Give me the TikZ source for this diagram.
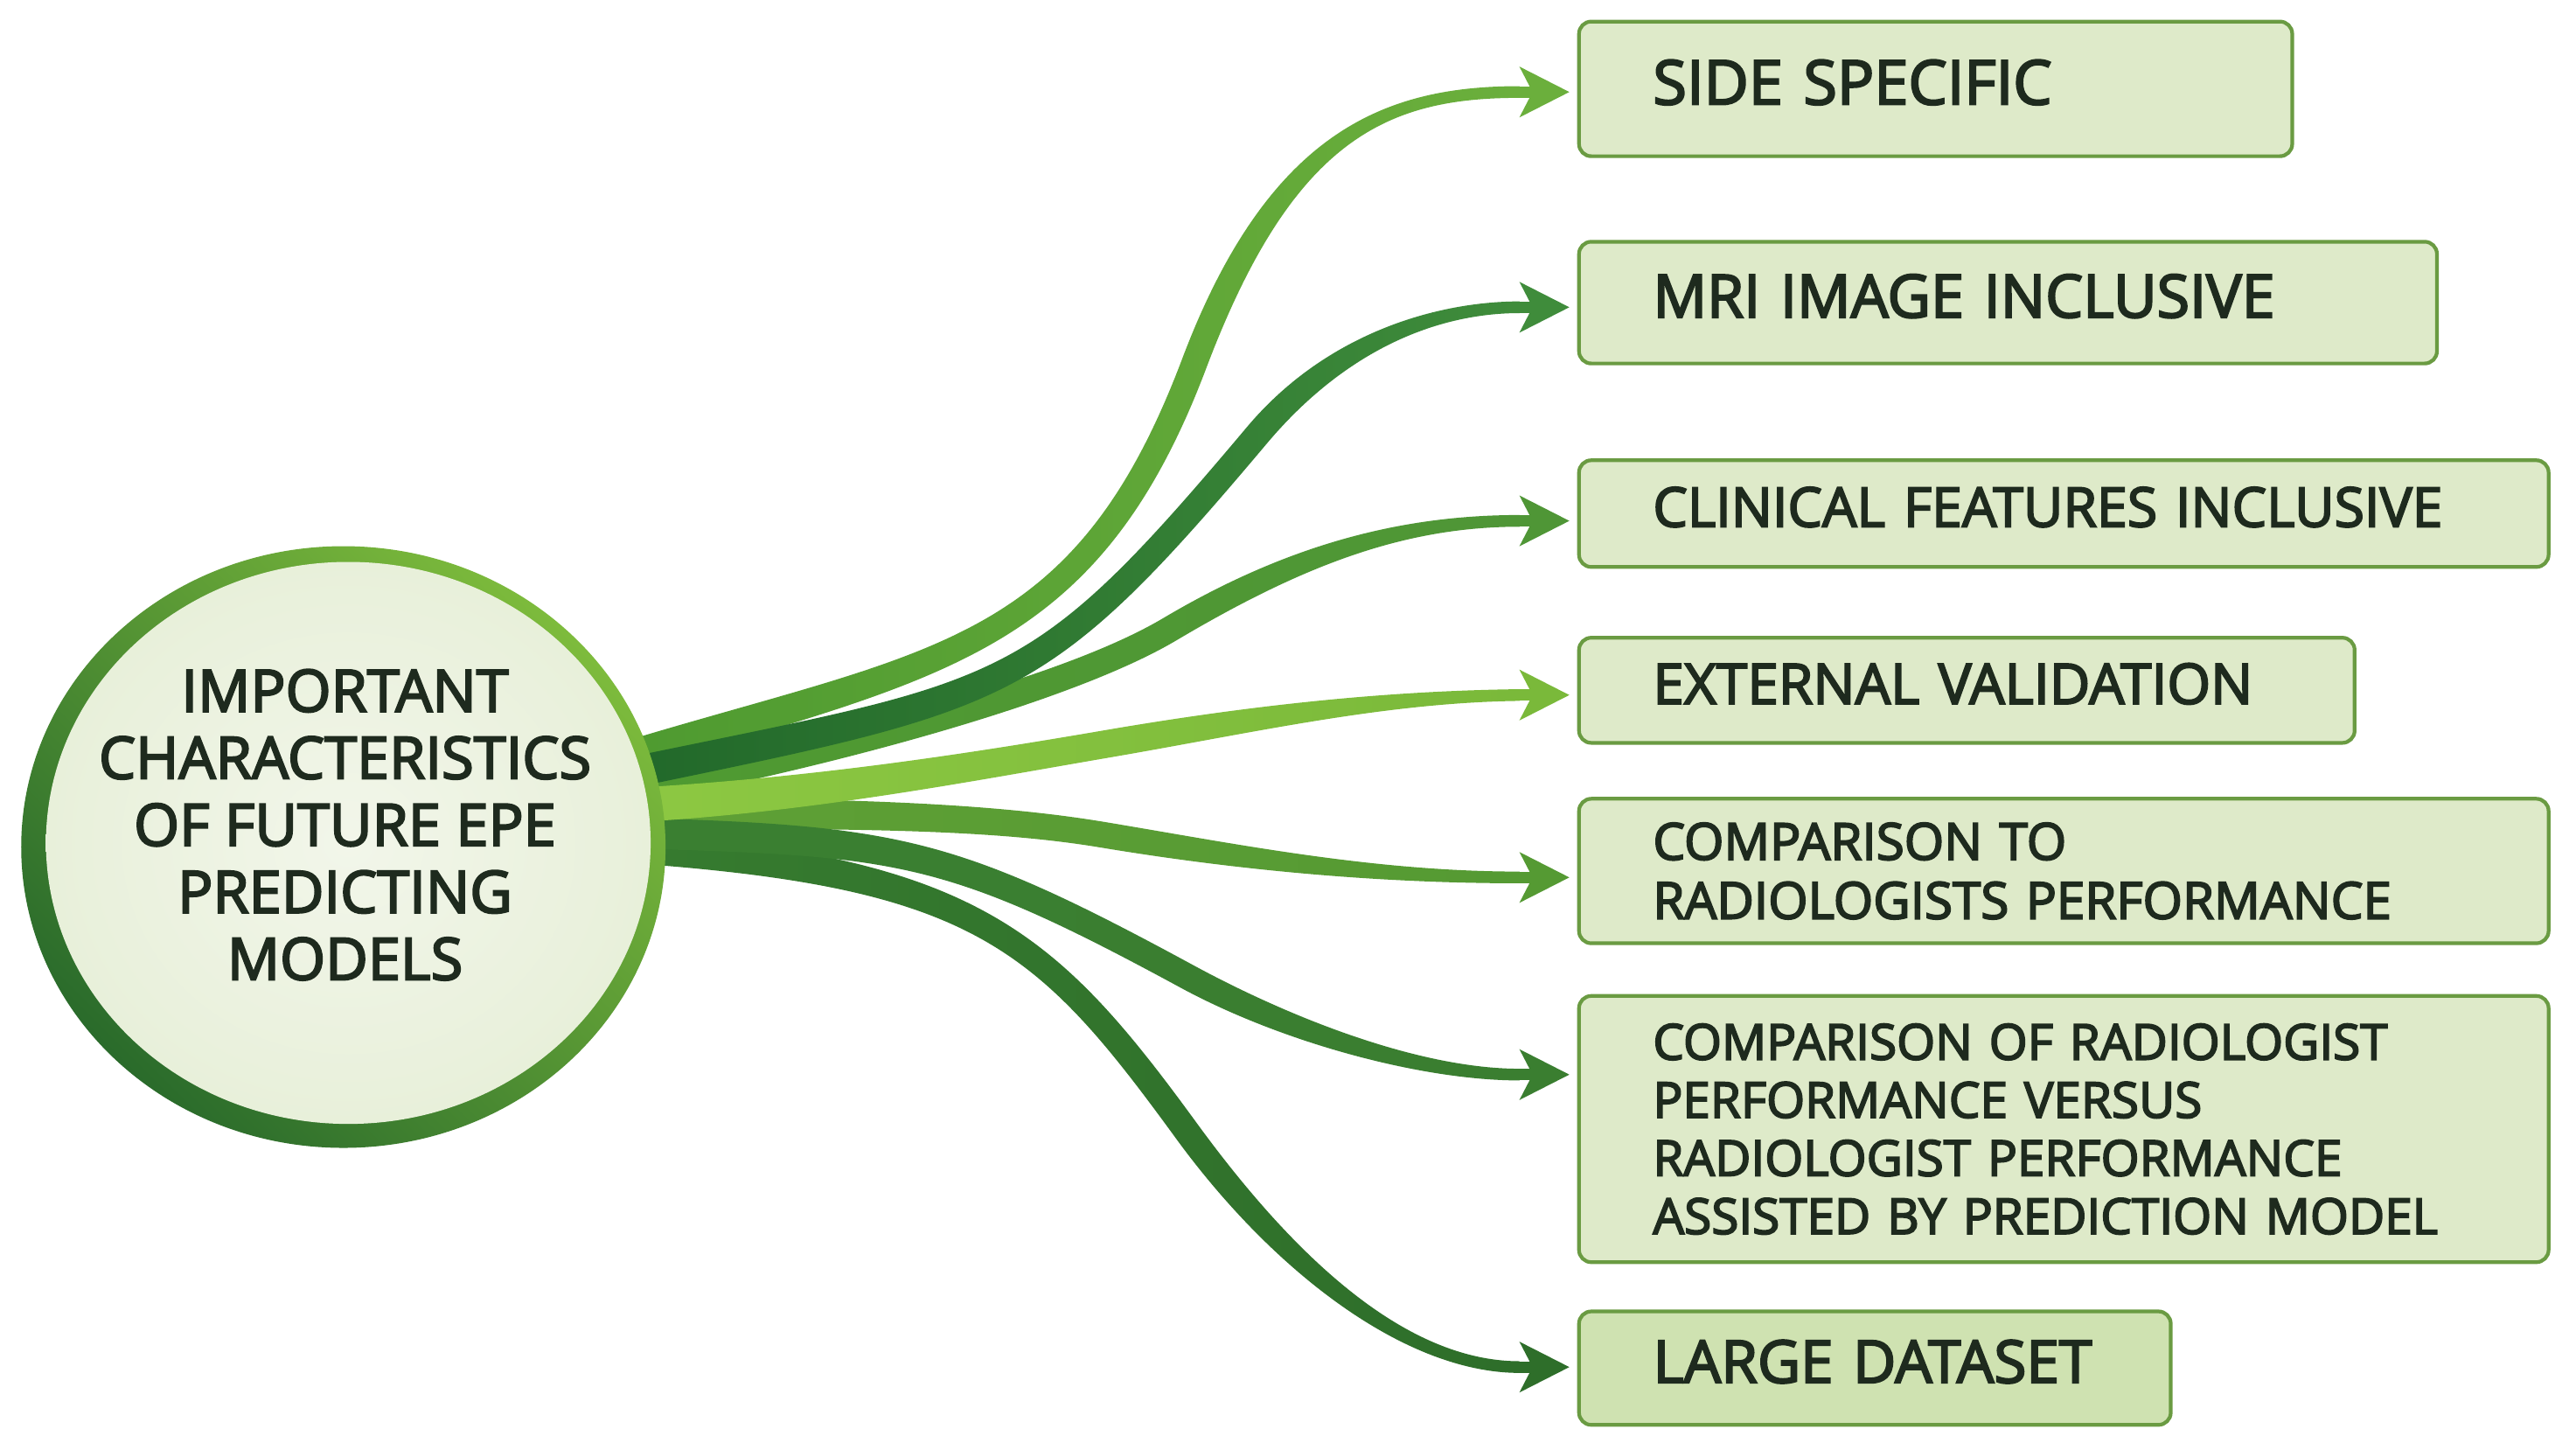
\documentclass[tikz,border=0pt]{standalone}
\usepackage{fontspec}
\newfontfamily\lblfont{Open Sans}[FakeBold=3.2]
\usetikzlibrary{shapes.geometric,arrows.meta,calc}
\hyphenpenalty=10000 \exhyphenpenalty=10000
\newcommand\upline[1]{\raisebox{2.1pt}[\height][\depth]{#1}}

\definecolor{txt}{HTML}{1E2A1E}
\definecolor{boxfill}{HTML}{DEEAC9}
\definecolor{boxfillb}{HTML}{CFE2B1}
\definecolor{boxline}{HTML}{6A9B42}
\definecolor{ringlight}{HTML}{7DBB3C}
\definecolor{ringdark}{HTML}{2A6B2B}
\definecolor{innerA}{HTML}{F2F6EA}
\definecolor{innerB}{HTML}{E8F0DA}
\definecolor{rA1}{HTML}{4E9A30}\definecolor{rB1}{HTML}{6BAF3C}
\definecolor{rA2}{HTML}{21682A}\definecolor{rB2}{HTML}{3F8C3B}
\definecolor{rA3}{HTML}{4F9A31}\definecolor{rB3}{HTML}{4F9636}
\definecolor{rA4}{HTML}{8DC842}\definecolor{rB4}{HTML}{7AB93A}
\definecolor{rA5}{HTML}{5FA035}\definecolor{rB5}{HTML}{559A33}
\definecolor{rA6}{HTML}{3A7F31}\definecolor{rB6}{HTML}{3A7E30}
\definecolor{rA7}{HTML}{367B2F}\definecolor{rB7}{HTML}{2E6E2A}

% tapered ribbon: #1 prefix, #2 half width start, #3 half width middle, #4 half width end, #5 fill options
\newcommand\drawribbon[5]{%
  \path ($(#1p0)!#2!90:(#1c1)$) coordinate (#1p0u)
        ($(#1p0)!#2!-90:(#1c1)$) coordinate (#1p0l)
        ($(#1m)!#3!90:(#1c3)$) coordinate (#1mu)
        ($(#1m)!#3!-90:(#1c3)$) coordinate (#1ml)
        ($(#1p3)!#4!-90:(#1c4)$) coordinate (#1p3u)
        ($(#1p3)!#4!90:(#1c4)$) coordinate (#1p3l);
  \path[#5] (#1p0u)
     .. controls ($(#1c1)+(#1p0u)-(#1p0)$) and ($(#1c2)+(#1mu)-(#1m)$) .. (#1mu)
     .. controls ($(#1c3)+(#1mu)-(#1m)$) and ($(#1c4)+(#1p3u)-(#1p3)$) .. (#1p3u)
     -- (#1p3l)
     .. controls ($(#1c4)+(#1p3l)-(#1p3)$) and ($(#1c3)+(#1ml)-(#1m)$) .. (#1ml)
     .. controls ($(#1c2)+(#1ml)-(#1m)$) and ($(#1c1)+(#1p0l)-(#1p0)$) .. (#1p0l)
     -- cycle;
}

\tikzset{
  arr/.style={line width=3.8pt, -{Stealth[length=16pt,width=16pt,inset=4pt]}, shorten >=2.5pt},
  ring/.style={ellipse, inner sep=0pt, minimum width=209.6pt, minimum height=195.7pt,
    top color=ringlight, bottom color=ringdark, shading angle=-45},
  innerdisc/.style={ellipse, inner sep=0pt, minimum width=196.7pt, minimum height=182.8pt,
    inner color=innerA, outer color=innerB},
  ctext/.style={align=center, text=txt, inner sep=0pt,
    font=\lblfont\fontsize{19}{21.8}\selectfont},
  box/.style={draw=boxline, line width=1.2pt, fill=boxfill, rounded corners=4pt,
    anchor=north west, inner xsep=24.06pt, inner ysep=0pt, align=left, text=txt,
    font=\lblfont\fontsize{18}{19.3}\selectfont}
}

\begin{document}
\begin{tikzpicture}[x=0.01879cm,y=-0.01879cm]
\useasboundingbox (0,0) rectangle (1568,882);
\fill[white] (0,0) rectangle (1568,882);

% ribbon centre lines
\coordinate (r1p0) at (380,461);   \coordinate (r1c1) at (570.3,403.3); \coordinate (r1c2) at (660.7,396.7);
\coordinate (r1m) at (727,221);    \coordinate (r1c3) at (780,80.8);    \coordinate (r1c4) at (845,56);
\coordinate (r1p3) at (925,56);
\coordinate (r2p0) at (380,471);   \coordinate (r2c1) at (615.3,422.2); \coordinate (r2c2) at (629.7,425.7);
\coordinate (r2m) at (765,265);    \coordinate (r2c3) at (813.3,207.6); \coordinate (r2c4) at (875,187);
\coordinate (r2p3) at (925,187);
\coordinate (r3p0) at (385,480);   \coordinate (r3c1) at (484.7,461.7); \coordinate (r3c2) at (643,423.9);
\coordinate (r3m) at (712,383);    \coordinate (r3c3) at (789.4,337.1); \coordinate (r3c4) at (855,317);
\coordinate (r3p3) at (925,317);
\coordinate (r4p0) at (385,490);   \coordinate (r4c1) at (492.5,484);   \coordinate (r4c2) at (586.25,467.75);
\coordinate (r4m) at (673.75,452.75); \coordinate (r4c3) at (761.25,437.75); \coordinate (r4c4) at (842.5,424);
\coordinate (r4p3) at (925,423);
\coordinate (r5p0) at (385,495);   \coordinate (r5c1) at (515,495);     \coordinate (r5c2) at (602,496.5);
\coordinate (r5m) at (671,508);    \coordinate (r5c3) at (749.9,521.1); \coordinate (r5c4) at (835,534);
\coordinate (r5p3) at (925,534);
\coordinate (r6p0) at (385,507);   \coordinate (r6c1) at (546.3,511.8); \coordinate (r6c2) at (577.9,515.8);
\coordinate (r6m) at (722,594);    \coordinate (r6c3) at (783.5,627.4); \coordinate (r6c4) at (865,654);
\coordinate (r6p3) at (925,654);
\coordinate (r7p0) at (385,516);   \coordinate (r7c1) at (593.7,530.8); \coordinate (r7c2) at (637.4,571.9);
\coordinate (r7m) at (722,688);    \coordinate (r7c3) at (780.9,768.8); \coordinate (r7c4) at (855,832);
\coordinate (r7p3) at (925,832);

\drawribbon{r1}{5.0pt}{4.2pt}{1.9pt}{left color=rA1, right color=rB1}
\drawribbon{r3}{5.0pt}{4.2pt}{1.9pt}{left color=rA3, right color=rB3}
\drawribbon{r2}{5.0pt}{4.2pt}{1.9pt}{left color=rA2, right color=rB2}
\drawribbon{r5}{5.0pt}{4.2pt}{1.9pt}{left color=rA5, right color=rB5}
\drawribbon{r7}{5.0pt}{4.2pt}{1.9pt}{left color=rA7, right color=rB7}
\drawribbon{r6}{5.0pt}{4.2pt}{1.9pt}{left color=rA6, right color=rB6}
\drawribbon{r4}{5.6pt}{4.5pt}{1.9pt}{left color=rA4, right color=rB4}

% central circle
\node[ring] (c) at (209,515.5) {};
\node[innerdisc] (ci) at (212,513) {};
\node[ctext] (ct) at (210,502) {IMPORTANT\\CHARACTERISTICS\\OF FUTURE EPE\\PREDICTING\\MODELS};

% boxes
\node[box, font=\lblfont\fontsize{20}{21}\selectfont, minimum width=232.0pt, text width=183.9pt, minimum height=43.8pt] (b1) at (960,12) {\upline{SIDE~SPECIFIC}};
\node[box, font=\lblfont\fontsize{19.4}{21}\selectfont, minimum width=279.1pt, text width=230.9pt, minimum height=39.6pt] (b2) at (960,146) {\upline{MRI~IMAGE~INCLUSIVE}};
\node[box, font=\lblfont\fontsize{17.8}{19}\selectfont, minimum width=315.4pt, text width=267.3pt, minimum height=34.7pt] (b3) at (960,279) {\upline{CLINICAL~FEATURES~INCLUSIVE}};
\node[box, font=\lblfont\fontsize{18.2}{19}\selectfont, minimum width=252.3pt, text width=204.2pt, minimum height=34.2pt] (b4) at (960,387) {\upline{EXTERNAL~VALIDATION}};
\node[box, font=\lblfont\fontsize{16.6}{19.2}\selectfont, minimum width=315.4pt, text width=267.3pt, minimum height=47.0pt] (b5) at (960,485) {COMPARISON~TO\\RADIOLOGISTS~PERFORMANCE};
\node[box, font=\lblfont\fontsize{16.1}{18.9}\selectfont, minimum width=315.4pt, text width=267.3pt, minimum height=86.6pt] (b6) at (960,605) {COMPARISON~OF~RADIOLOGIST\\PERFORMANCE~VERSUS\\RADIOLOGIST~PERFORMANCE\\ASSISTED~BY~PREDICTION~MODEL};
\node[box, fill=boxfillb, font=\lblfont\fontsize{19.2}{21}\selectfont, minimum width=192.5pt, text width=144.3pt, minimum height=36.9pt] (b7) at (960,797) {\upline{LARGE~DATASET}};

% arrow shafts and heads
\draw[arr, rB1] (r1p3) -- (r1p3 -| b1.west);
\draw[arr, rB2] (r2p3) -- (r2p3 -| b2.west);
\draw[arr, rB3] (r3p3) -- (r3p3 -| b3.west);
\draw[arr, rB4] (r4p3) -- (r4p3 -| b4.west);
\draw[arr, rB5] (r5p3) -- (r5p3 -| b5.west);
\draw[arr, rB6] (r6p3) -- (r6p3 -| b6.west);
\draw[arr, rB7] (r7p3) -- (r7p3 -| b7.west);
\end{tikzpicture}
\end{document}
